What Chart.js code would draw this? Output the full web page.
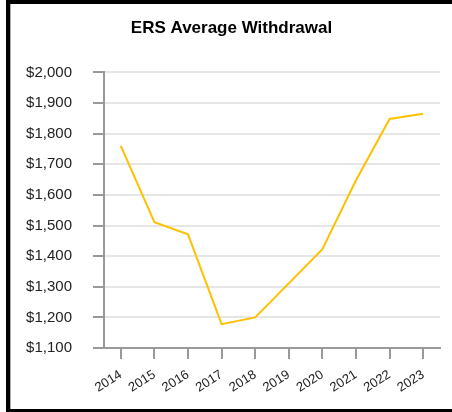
<!DOCTYPE html>
<html>
<head>
<meta charset="utf-8">
<script src="https://cdn.jsdelivr.net/npm/chart.js@4"></script>
<style>
    html, body { margin: 0; padding: 0; background: #fff; overflow: hidden; }
    #frame {
        position: absolute; left: 6px; top: 0; width: 460px; height: 405px;
        border-left: 4px solid #000; border-top: 4px solid #000; border-bottom: 3px solid #000;
        box-shadow: inset 1px 0 0 #aaa;
    }
    #wrap { position: absolute; left: 0; top: 0; width: 452px; height: 412px; }
</style>
</head>
<body>
<div id="frame"></div>
<div id="wrap"><canvas id="withdrawalChart"></canvas></div>
<script>
const years = ['2014', '2015', '2016', '2017', '2018', '2019', '2020', '2021', '2022', '2023'];
const avgWithdrawal = [1760, 1511, 1471, 1178, 1200, 1311, 1423, 1648, 1848, 1865];
const yMin = 1100;
const yMax = 2000;
const yStep = 100;

document.addEventListener("DOMContentLoaded", function () {
    const ctx = document.getElementById("withdrawalChart");

    new Chart(ctx, {
        type: 'line',
        data: {
            labels: years,
            datasets: [{
                label: 'ERS Average Withdrawal',
                data: avgWithdrawal,
                borderColor: '#ffc000',
                borderWidth: 2,
                pointRadius: 0,
                tension: 0,
                fill: false
            }]
        },
        options: {
            responsive: true,
            maintainAspectRatio: false,
            animation: false,
            layout: { padding: { left: 23, right: 12, top: 0, bottom: 0 } },
            plugins: {
                legend: { display: false },
                tooltip: { enabled: false },
                title: {
                    display: true,
                    text: 'ERS Average Withdrawal',
                    color: '#000',
                    font: { family: 'Liberation Sans', size: 17, weight: 'bold' },
                    padding: { top: 18, bottom: 34 }
                }
            },
            scales: {
                x: {
                    offset: true,
                    border: { color: '#999', width: 2 },
                    grid: { drawOnChartArea: false, offset: false, tickColor: '#999', tickLength: 11, lineWidth: 2 },
                    ticks: {
                        color: '#222',
                        autoSkip: false,
                        font: { family: 'Liberation Sans', size: 13 },
                        minRotation: 32,
                        maxRotation: 32,
                        padding: 8
                    },
                    afterFit: function (scale) { scale.height = 64; }
                },
                y: {
                    min: yMin,
                    max: yMax,
                    border: { color: '#999', width: 2 },
                    grid: { color: '#e6e6e6', lineWidth: 2, tickColor: '#999', tickLength: 11 },
                    ticks: {
                        stepSize: yStep,
                        color: '#222',
                        padding: 21,
                        font: { family: 'Liberation Sans', size: 15 },
                        callback: v => '$' + v.toLocaleString('en-US')
                    },
                    afterFit: function (scale) { scale.width = 81; }
                }
            }
        }
    });
});
</script>
</body>
</html>
